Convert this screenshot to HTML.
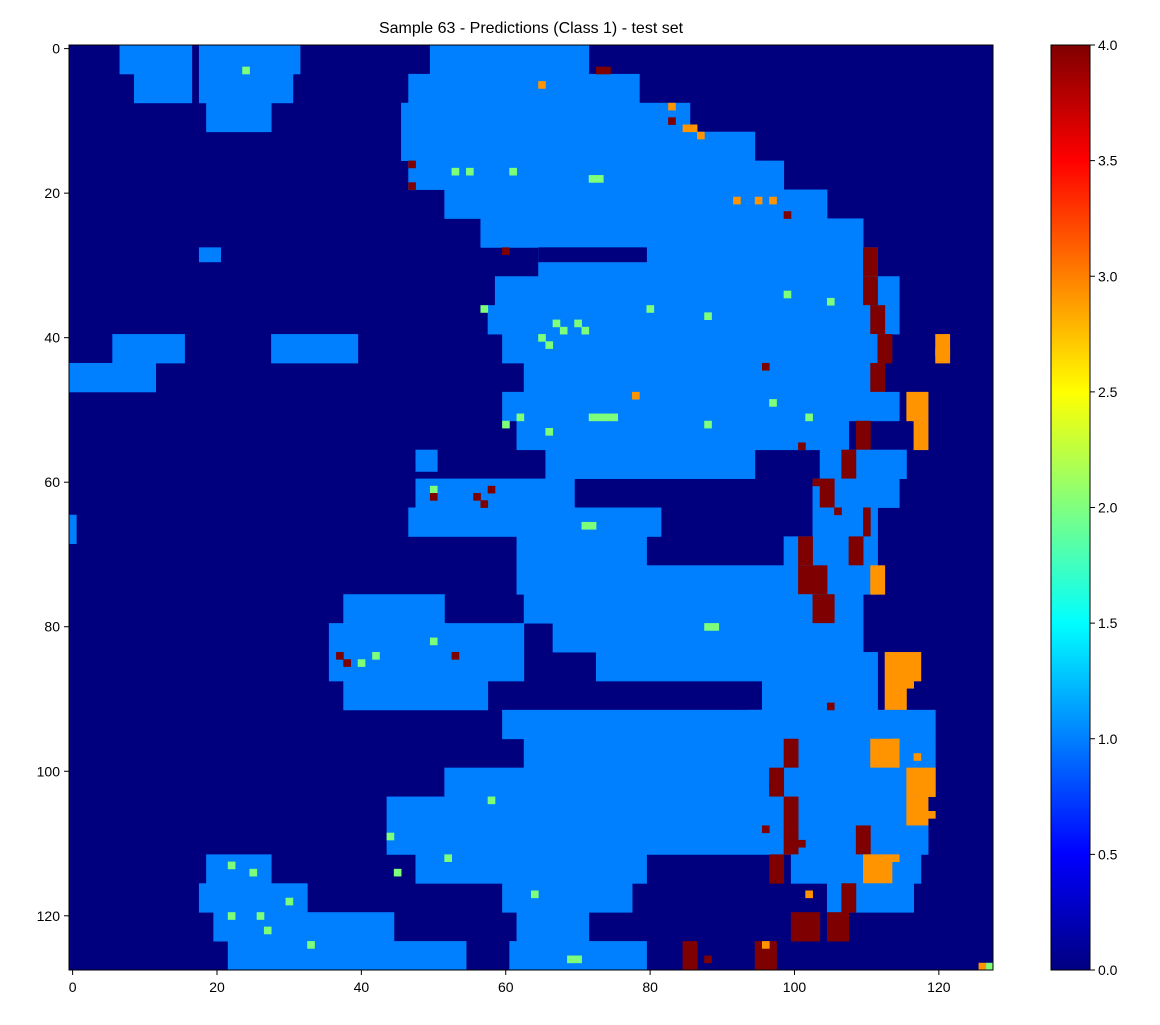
<!DOCTYPE html>
<html><head><meta charset="utf-8"><style>
html,body{margin:0;padding:0;background:#fff;}
svg text{font-family:"Liberation Sans",sans-serif;fill:#000;}
</style></head><body>
<svg id="chart" width="1160" height="1020" xmlns="http://www.w3.org/2000/svg">
<defs><linearGradient id="jet" x1="0" y1="1" x2="0" y2="0">
<stop offset="0" stop-color="#000080"/><stop offset="0.125" stop-color="#0000ff"/>
<stop offset="0.375" stop-color="#00ffff"/><stop offset="0.625" stop-color="#ffff00"/>
<stop offset="0.875" stop-color="#ff0000"/><stop offset="1" stop-color="#800000"/></linearGradient></defs>
<text x="531" y="33" font-size="16" text-anchor="middle">Sample 63 - Predictions (Class 1) - test set</text>
<g id="cells"></g>
<rect x="69" y="45" width="924" height="925" fill="none" stroke="#000" stroke-width="1"/>
<g id="axes"></g>
<rect x="1051" y="45" width="39" height="925" fill="url(#jet)" stroke="#000"/>
<g id="cbar"></g>
</svg>
<script>
const nGrid = 128;
const xTicks = [0,20,40,60,80,100,120];
const yTicks = [0,20,40,60,80,100,120];
const cbarTicks = ["0.0","0.5","1.0","1.5","2.0","2.5","3.0","3.5","4.0"];
const classColors = ["#00007f","#0080ff","#7dff7a","#ff9400","#7f0000"];
// band b covers rows 4b..4b+3 ; "x0-x1:class"
const bands = [
"7-17:1,18-32:1,50-72:1",
"9-17:1,18-31:1,47-79:1",
"19-28:1,46-86:1",
"46-95:1",
"47-99:1",
"52-105:1",
"57-110:1",
"65-112:1,110-112:4",
"59-115:1,110-112:4",
"58-115:1,111-113:4",
"60-113:1,6-16:1,28-40:1,112-114:4,120-122:3",
"0-12:1,63-112:1,111-113:4",
"60-115:1,116-119:3",
"62-108:1,109-111:4,117-119:3",
"66-95:1,104-116:1,107-109:4",
"48-70:1,103-115:1,104-106:4",
"47-82:1,103-112:1,110-111:4",
"62-80:1,99-112:1,101-103:4,108-110:4",
"62-100:1,100-112:1,101-105:4,111-113:3",
"38-52:1,63-110:1,103-106:4",
"36-63:1,67-110:1",
"36-63:1,73-112:1,113-118:3",
"38-58:1,96-112:1,113-116:3",
"60-98:1,94-120:1",
"63-120:1,111-115:3,99-101:4",
"52-120:1,97-99:4,116-120:3",
"44-118:1,99-101:4,116-119:3",
"44-119:1,99-101:4,109-111:4",
"19-28:1,48-80:1,100-118:1,110-114:3,97-99:4",
"18-33:1,60-78:1,105-117:1,107-109:4",
"20-45:1,62-72:1,100-104:4,105-108:4",
"22-55:1,61-80:1,95-98:4,85-87:4"];
const greenPts = [[72,18],[73,18],[65,40],[66,41],[70,38],[71,39],[72,51],[73,51],[74,51],[75,51],[40,85],[42,84],[50,82],[71,66],[72,66],[88,80],[89,80],[88,37],[44,109],[30,118],[22,120],[26,120],[50,61],[69,126],[70,126],[53,17],[55,17],[61,17],[127,127],[67,38],[68,39],[60,52],[62,51],[66,53],[80,36],[88,52],[97,49],[102,51],[22,113],[25,114],[27,122],[33,124],[45,114],[52,112],[58,104],[64,117],[57,36],[99,34],[105,35],[24,3]];
const orangePts = [[85,11],[86,11],[87,12],[120,42],[121,42],[65,5],[92,21],[115,88],[116,88],[113,97],[117,98],[126,127],[95,21],[97,21],[83,8],[78,48],[114,96],[118,101],[119,106],[114,112],[102,117],[96,124]];
const maroonPts = [[47,16],[50,62],[56,62],[57,63],[37,84],[38,85],[86,126],[88,126],[58,61],[73,3],[74,3],[60,28],[47,19],[53,84],[83,10],[96,44],[99,23],[101,55],[105,91],[96,108],[101,110],[97,102],[106,121],[103,60],[106,64]];

const L=69,T=45,W=924,H=925;
const cw=W/nGrid, ch=H/nGrid;
const sx=v=>L+v*cw, sy=v=>T+v*ch;
const NS="http://www.w3.org/2000/svg";
const g=document.getElementById('cells');
function cell(x0,y0,w,h,c){
  const r=document.createElementNS(NS,'rect');
  r.setAttribute('x',sx(x0));r.setAttribute('y',sy(y0));
  r.setAttribute('width',w*cw+0.4);r.setAttribute('height',h*ch+0.4);
  r.setAttribute('fill',classColors[c]);
  
  
  g.appendChild(r);
}
cell(0,0,nGrid,nGrid,0);
bands.forEach((s,b)=>{s.split(',').forEach(p=>{const [rng,c]=p.split(':');const [a,e]=rng.split('-').map(Number);cell(a,b*4,e-a,4,+c);});});
cell(65,28,15,2,0);
cell(18,28,3,2,1);
cell(0,65,1,4,1);
cell(48,56,3,3,1);
greenPts.forEach(p=>cell(p[0],p[1],1,1,2));
orangePts.forEach(p=>cell(p[0],p[1],1,1,3));
maroonPts.forEach(p=>cell(p[0],p[1],1,1,4));

const ax=document.getElementById('axes');
function line(par,x1,y1,x2,y2,name){const l=document.createElementNS(NS,'line');l.setAttribute('x1',x1);l.setAttribute('y1',y1);l.setAttribute('x2',x2);l.setAttribute('y2',y2);l.setAttribute('stroke','#000');


par.appendChild(l);}
function text(par,x,y,s,anchor,name){const t=document.createElementNS(NS,'text');t.setAttribute('x',x);t.setAttribute('y',y);t.setAttribute('font-size','14');t.setAttribute('text-anchor',anchor);t.textContent=s;


par.appendChild(t);}
xTicks.forEach(v=>{const x=sx(v+0.5);line(ax,x,970,x,975,'x-tick');text(ax,x,992,String(v),'middle','x-tick-label');});
yTicks.forEach(v=>{const y=sy(v+0.5);line(ax,64,y,69,y,'y-tick');text(ax,60,y+5,String(v),'end','y-tick-label');});
const cb=document.getElementById('cbar');
cbarTicks.forEach((s,i)=>{const y=970-925*(+s)/4;line(cb,1090,y,1095,y,'colorbar-tick');text(cb,1098,y+5,s,'start','colorbar-tick-label');});
</script>
</body></html>
